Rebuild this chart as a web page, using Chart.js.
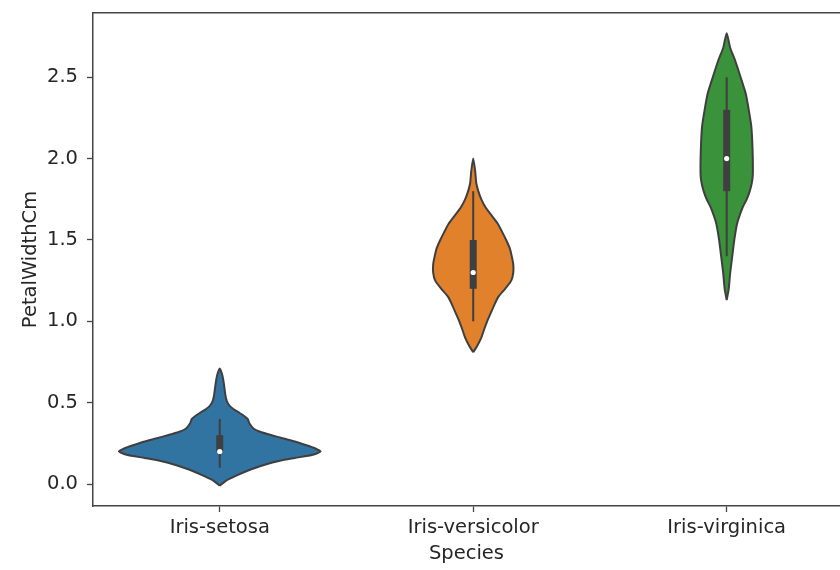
<!DOCTYPE html>
<html>
<head>
<meta charset="utf-8">
<script src="https://cdn.jsdelivr.net/npm/chart.js"></script>
<style>
  html, body { margin: 0; padding: 0; background: #fff; overflow: hidden; }
  #wrap { width: 844px; height: 570px; position: relative; }
</style>
</head>
<body>
<div id="wrap"><canvas id="violinChart"></canvas></div>
<script>
// -----------------------------
// Data
// -----------------------------
const species = ["Iris-setosa", "Iris-versicolor", "Iris-virginica"];
const yTicks = [0.0, 0.5, 1.0, 1.5, 2.0, 2.5];

// density outline: values (PetalWidthCm) and half widths (category units)
const setosaY = [-0.01, 0.02, 0.05, 0.08, 0.10, 0.12, 0.14, 0.16, 0.18, 0.20, 0.22, 0.24, 0.26, 0.28, 0.30, 0.32, 0.34, 0.37, 0.40, 0.42, 0.44, 0.46, 0.48, 0.51, 0.55, 0.62, 0.67, 0.71];
const setosaW = [0, 0.024, 0.063, 0.107, 0.142, 0.181, 0.229, 0.296, 0.367, 0.398, 0.375, 0.339, 0.300, 0.252, 0.205, 0.162, 0.134, 0.118, 0.110, 0.095, 0.075, 0.055, 0.039, 0.028, 0.022, 0.016, 0.010, 0];

const versicolorY = [0.81, 0.85, 0.90, 0.95, 1.00, 1.05, 1.10, 1.15, 1.20, 1.25, 1.30, 1.35, 1.40, 1.45, 1.50, 1.55, 1.60, 1.65, 1.70, 1.75, 1.80, 1.85, 1.92, 2.00];
const versicolorW = [0, 0.016, 0.032, 0.043, 0.055, 0.069, 0.083, 0.099, 0.126, 0.150, 0.158, 0.158, 0.152, 0.144, 0.130, 0.114, 0.097, 0.073, 0.049, 0.032, 0.020, 0.012, 0.008, 0];

const virginicaY = [1.13, 1.20, 1.30, 1.40, 1.50, 1.60, 1.70, 1.75, 1.80, 1.85, 1.90, 2.00, 2.10, 2.20, 2.30, 2.40, 2.50, 2.60, 2.68, 2.77];
const virginicaW = [0, 0.008, 0.014, 0.022, 0.030, 0.041, 0.063, 0.079, 0.091, 0.099, 0.103, 0.103, 0.101, 0.097, 0.087, 0.075, 0.055, 0.034, 0.014, 0];

// inner box: whisker low/high, q1, q3, median
const whiskerLow = [0.1, 1.0, 1.4];
const whiskerHigh = [0.4, 1.8, 2.5];
const q1 = [0.2, 1.2, 1.8];
const q3 = [0.3, 1.5, 2.3];
const medians = [0.2, 1.3, 2.0];

const fills = ["#3274a1", "#e1812c", "#3a923a"];
const edge = "#3f3f3f";

// -----------------------------
// Build datasets
// -----------------------------
function outline(center, ys, ws) {
    const right = ys.map((y, i) => ({ x: center + ws[i], y: y }));
    const left = ys.map((y, i) => ({ x: center - ws[i], y: y })).reverse();
    return right.concat(left.slice(1));
}

const profiles = [[setosaY, setosaW], [versicolorY, versicolorW], [virginicaY, virginicaW]];
const datasets = [];

// lower "order" is drawn on top
profiles.forEach((p, i) => {
    datasets.push({
        data: outline(i, p[0], p[1]),
        order: 3,
        showLine: true,
        fill: "shape",
        backgroundColor: fills[i],
        borderColor: edge,
        borderWidth: 2,
        borderJoinStyle: "round",
        tension: 0.2,
        pointRadius: 0
    });
});

species.forEach((s, i) => {
    datasets.push({
        data: [{ x: i, y: whiskerLow[i] }, { x: i, y: whiskerHigh[i] }],
        order: 2,
        showLine: true,
        borderColor: edge,
        borderWidth: 2,
        pointRadius: 0
    });
    datasets.push({
        data: [{ x: i, y: q1[i] }, { x: i, y: q3[i] }],
        order: 1,
        showLine: true,
        borderColor: edge,
        borderWidth: 7,
        borderCapStyle: "butt",
        pointRadius: 0
    });
    datasets.push({
        data: [{ x: i, y: medians[i] }],
        order: 0,
        showLine: false,
        pointRadius: 2.6,
        pointBorderWidth: 0,
        pointBackgroundColor: "#ffffff"
    });
});

// -----------------------------
// Chart
// -----------------------------
Chart.defaults.font.family = "'DejaVu Sans', sans-serif";
Chart.defaults.font.size = 19.5;
Chart.defaults.color = "#262626";

new Chart(document.getElementById("violinChart"), {
    type: "scatter",
    data: { datasets: datasets },
    options: {
        responsive: true,
        maintainAspectRatio: false,
        animation: false,
        layout: { padding: { top: 13, right: 0, bottom: 0, left: 0 } },
        plugins: {
            legend: { display: false },
            tooltip: { enabled: false }
        },
        scales: {
            x: {
                type: "linear",
                position: "bottom",
                min: -0.5,
                max: 2.447,
                afterBuildTicks: (axis) => { axis.ticks = species.map((s, i) => ({ value: i })); },
                afterFit: (axis) => {
                    axis.height = 64;
                    axis.paddingLeft = 0;
                    axis.paddingRight = 0;
                },
                ticks: {
                    padding: 4,
                    maxRotation: 0,
                    callback: (v) => species[v]
                },
                grid: { drawOnChartArea: false, drawTicks: true, tickLength: 6, tickColor: "#444", tickWidth: 1.3 },
                border: { display: true, color: "#444", width: 1.5 },
                title: { display: true, text: "Species", padding: { top: 0, bottom: 4 } }
            },
            xTop: {
                type: "linear",
                position: "top",
                min: -0.5,
                max: 2.447,
                afterFit: (axis) => {
                    axis.height = 0;
                    axis.paddingLeft = 0;
                    axis.paddingRight = 0;
                },
                ticks: { display: false },
                grid: { display: false },
                border: { display: true, color: "#444", width: 1.5 }
            },
            y: {
                type: "linear",
                min: -0.135,
                max: 2.895,
                afterBuildTicks: (axis) => { axis.ticks = yTicks.map((v) => ({ value: v })); },
                afterFit: (axis) => {
                    axis.width = 93;
                    axis.paddingTop = 0;
                    axis.paddingBottom = 0;
                },
                ticks: {
                    padding: 9,
                    callback: (v) => v.toFixed(1)
                },
                grid: { drawOnChartArea: false, drawTicks: true, tickLength: 6, tickColor: "#444", tickWidth: 1.3 },
                border: { display: true, color: "#444", width: 1.5 },
                title: { display: true, text: "PetalWidthCm", padding: { top: 19, bottom: 0 } }
            }
        }
    }
});
</script>
</body>
</html>
